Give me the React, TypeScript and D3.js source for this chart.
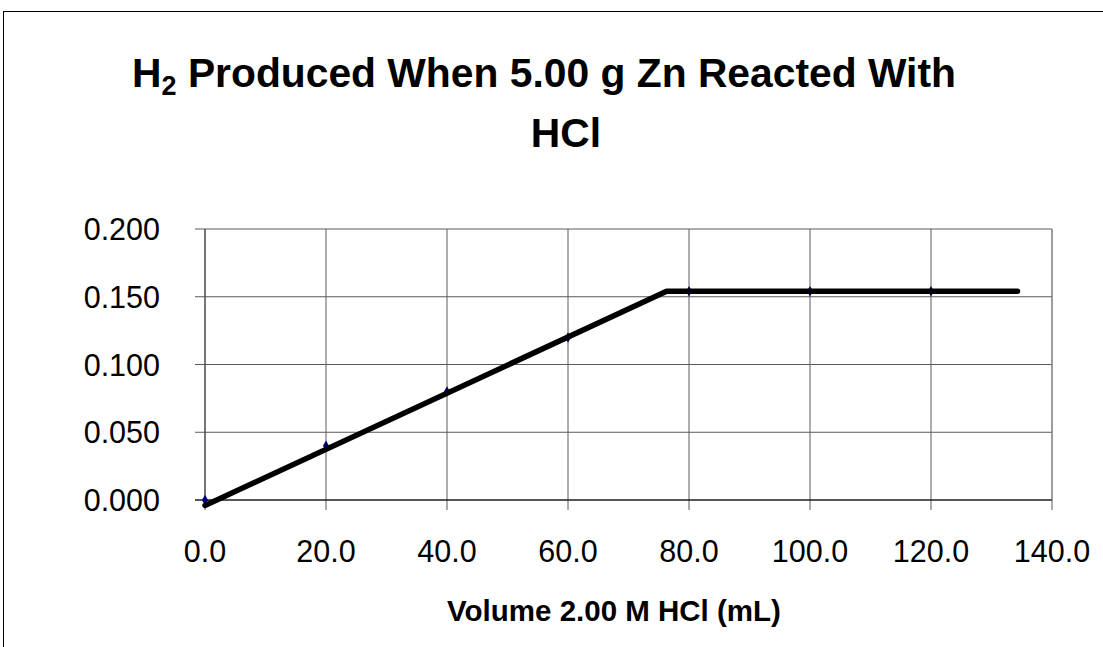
import React from "react";
import * as d3 from "d3";

const volumes = [0, 20, 40, 60, 80, 100, 120];
const moles = [0.0, 0.04, 0.08, 0.12, 0.154, 0.154, 0.154];
const fitX = [0, 76.3, 134.3];
const fitY = [-0.004, 0.154, 0.154];
const xTicks = [0, 20, 40, 60, 80, 100, 120, 140];
const yTicks = [0, 0.05, 0.1, 0.15, 0.2];

const W = 1103;
const H = 647;
const FONT = "'Liberation Sans', Arial, Helvetica, sans-serif";

export default function App() {
  const x = d3.scaleLinear().domain([0, 140]).range([205, 1052]);
  const y = d3.scaleLinear().domain([0, 0.2]).range([500, 229]);
  const line = d3
    .line<[number, number]>()
    .x((d) => x(d[0]))
    .y((d) => y(d[1]));
  const fitPts: [number, number][] = fitX.map((v, i) => [v, fitY[i]]);
  const diamond = d3.symbol().type(d3.symbolDiamond).size(32)();

  return (
    <svg
      width={W}
      height={H}
      style={{ position: "absolute", left: 0, top: 0, background: "#fff" }}
      fontFamily={FONT}
    >
      <rect x={0} y={0} width={W} height={H} fill="#fff" />
      <rect x={3.5} y={11.5} width={1300} height={1000} fill="none" stroke="#000" strokeWidth={1} />

      {/* grid lines */}
      {xTicks.map((t) => (
        <line key={"gx" + t} x1={x(t)} x2={x(t)} y1={y(0.2)} y2={y(0) + 10} stroke="#5a5a5a" strokeWidth={1} />
      ))}
      {yTicks.map((t) => (
        <line key={"gy" + t} x1={x(0) - 10} x2={x(140)} y1={y(t)} y2={y(t)} stroke="#5a5a5a" strokeWidth={1} />
      ))}
      <line x1={x(0) - 10} x2={x(140)} y1={y(0)} y2={y(0)} stroke="#000" strokeWidth={1} />
      <line x1={x(0)} x2={x(0)} y1={y(0.2)} y2={y(0)} stroke="#404040" strokeWidth={1} />
      <line x1={x(140)} x2={x(140)} y1={y(0.2)} y2={y(0)} stroke="#8a8a8a" strokeWidth={1} />

      {/* y tick labels */}
      {yTicks.map((t) => (
        <text key={"ly" + t} x={160} y={y(t) + 11} textAnchor="end" fontSize={30.5} fill="#000">
          {d3.format(".3f")(t)}
        </text>
      ))}
      {/* x tick labels */}
      {xTicks.map((t) => (
        <text key={"lx" + t} x={x(t)} y={562} textAnchor="middle" fontSize={30.5} fill="#000">
          {d3.format(".1f")(t)}
        </text>
      ))}

      {/* markers */}
      {volumes.map((v, i) => (
        <path key={"m" + i} d={diamond!} transform={`translate(${x(v)},${y(moles[i])})`} fill="#000080" />
      ))}

      {/* fit line */}
      <path d={line(fitPts)!} fill="none" stroke="#000" strokeWidth={5.5} strokeLinecap="round" strokeLinejoin="round" />

      {/* title */}
      <text x={544} y={87} textAnchor="middle" fontSize={40.8} fontWeight="bold" fill="#000">
        H<tspan fontSize={27} dy={8}>2</tspan>
        <tspan dy={-8}> Produced When 5.00 g Zn Reacted With</tspan>
      </text>
      <text x={566} y={147} textAnchor="middle" fontSize={40.8} fontWeight="bold" fill="#000">
        HCl
      </text>

      {/* x axis title */}
      <text x={614} y={621} textAnchor="middle" fontSize={29.5} fontWeight="bold" fill="#000">
        Volume 2.00 M HCl (mL)
      </text>
    </svg>
  );
}
